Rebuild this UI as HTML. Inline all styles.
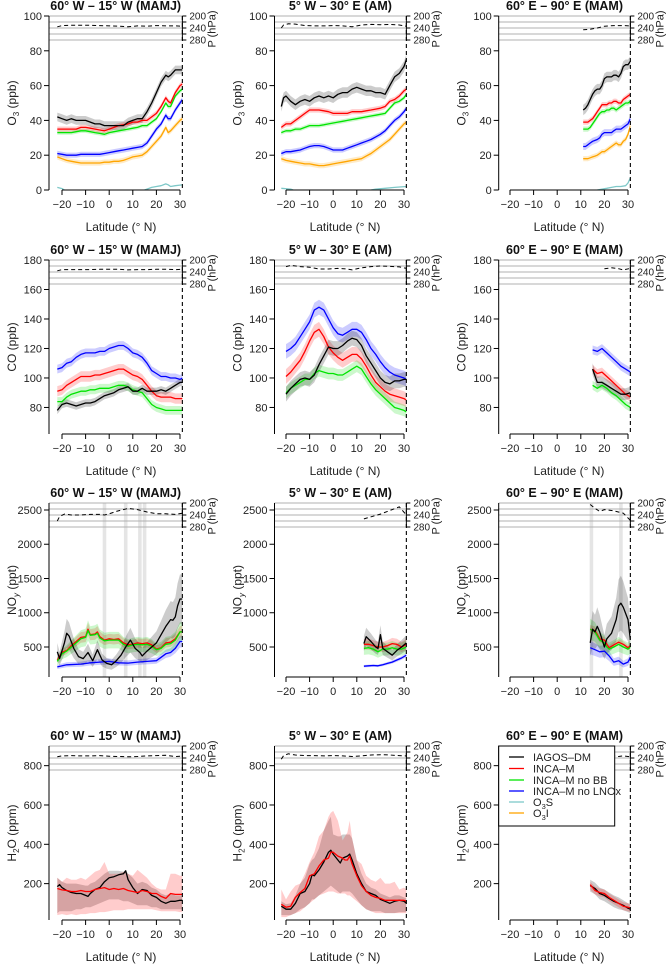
<!DOCTYPE html>
<html><head><meta charset="utf-8">
<style>
html,body{margin:0;padding:0;background:#fff;}
svg{display:block;font-family:"Liberation Sans",Arial,sans-serif;}
</style></head>
<body>
<svg id="chart" width="667" height="967" viewBox="0 0 667 967" xmlns="http://www.w3.org/2000/svg"></svg>
<script>
// ---------------- DATA ----------------
const xTicks=[-20,-10,0,10,20,30];
const pTicks=[200,220,240,260,280];
const pLabels=[200,240,280];
const colTitles=["60° W – 15° W (MAMJ)","5° W – 30° E (AM)","60° E – 90° E (MAM)"];
const o3Ticks=[0,20,40,60,80,100];
const coTicks=[80,100,120,140,160,180];
const noyTicks=[500,1000,1500,2000,2500];
const h2oTicks=[200,400,600,800];

// O3 col1
const o3a_lat=[-22,-20,-18,-16,-14,-12,-10,-8,-6,-4,-2,0,2,4,6,8,10,12,14,16,18,20,22,24,25,26,28,30,31];
const o3a_black=[42,41,40,41,40,40,40,39,38,38,37,37,37,37,37,39,40,41,41,45,50,56,62,66,65,66,69,69,69];
const o3a_red=[35,35,35,35,35,36,36,35.5,35,34.5,34,35,36,37,37.5,38,39,39,40,40,42,44,48,53,51,50,56,60,61];
const o3a_green=[33,33,33,33,33.5,34,34,33.5,33,32.5,32,33,33.5,34,34.5,35,35.5,36,37,37,39,41,45,50,48,48,54,57,58];
const o3a_blue=[21,20.5,20,20,20,20.5,20.5,20.5,20.5,20.5,21,21.5,22,22.5,23,23.5,24,24.5,25,27,31,35,38,43,41,41,46,50,52];
const o3a_orange=[19,18,17,16.5,16,15.5,15.5,15.5,15.5,15.5,16,16,16.5,16.5,17,18,19,19.5,20,22,25,28,31,36,33,34,37,40,41];
const o3a_tealLat=[-22,-20,-19,0,15,16,18,20,22,24,25,26,28,30,31];
const o3a_teal=[1.5,0.8,0,null,0,0.5,1.5,2,2.5,3.5,3,2,2.5,2.8,3];
// O3 col2
const o3b_lat=[-22,-21,-20,-18,-16,-14,-12,-10,-8,-6,-4,-2,0,2,4,6,8,10,12,14,16,18,20,22,24,26,28,30,31];
const o3b_black=[48,53,54,51,49,51,52,51,53,54,53,54,53,55,56,56,58,59,58,57,57,56,56,55,60,65,67,71,75];
const o3b_red=[36,37,38,38,40,42,44,46,46,46,45.5,45,44,44,44,44,45,45,45,45.5,46,46.5,47,48,51,52,54,57,58];
const o3b_green=[33,33.5,34,34,35,35,36,37,37,37,37.5,38,38.5,39,39.5,40,40.5,41,41.5,42,42.5,43,43.5,44,47,50,51,53,55];
const o3b_blue=[21,21.5,22,22,22.5,23,24,25,25.5,25.5,25,24,23,23,23,24,25,26,27,28,29,30.5,32,34,37,40,42,45,47];
const o3b_orange=[18,17.5,17,16.5,16,15.5,15,15,14.5,14,14,14.5,15,15.5,16,16.5,17,17.5,18,19.5,21,23,25,27,29,32,35,38,39];
const o3b_tealLat=[-22,-18,-17,0,16,18,22,26,31];
const o3b_teal=[1,0.5,0,null,0,0.5,1,1.5,2];
// O3 col3
const o3c_lat=[11,12,13,14,15,16,17,18,19,20,21,22,23,24,25,26,27,28,29,30,31];
const o3c_black=[46,47,49,52,55,57,58,58,60,64,65,65,65,66,66,65,67,71,72,72,74];
const o3c_red=[39,39,39,40,41,43,45,47,49,49,49,50,50,51,51,50,50,52,53,54,55];
const o3c_green=[35,35,35,36,38,40,42,44,45,45,46,46,47,47,46,47,48,49,50,50,51];
const o3c_blue=[25,25,26,27,28,28.5,29,30,32,33,33,33,33,34,35,35,35,36,37,38,41];
const o3c_orange=[18,18,18,18.5,19,19.5,20,21,22,22,23,24,25,26,27,26,26,28,29,32,37];
const o3c_tealLat=[17,19,21,23,25,27,29,30,31];
const o3c_teal=[0,0.5,1,1.5,2,2,2.5,4,7];

// CO col1
const coa_lat=[-22,-20,-18,-16,-14,-12,-10,-8,-6,-4,-2,0,2,4,6,8,10,12,14,16,18,20,22,24,26,28,30,31];
const coa_blue=[106,107,110,111,114,116,117,117,117,118,118,120,121,122,122,120,117,116,114,110,105,103,101,101,100,100,99,100];
const coa_red=[91,92,95,97,99,101,101,101,102,102,103,104,105,106,106,104,102,101,99,95,91,88,87,87,87,86,86,86];
const coa_green=[84,84,87,89,90,91,91,92,92,93,93,93,94,95,95,94,92,91,90,86,82,80,79,78,78,78,78,78];
const coa_black=[78,82,83,82,81,82,83,83,84,86,88,89,90,92,93,94,91,91,93,91,91,91,92,91,93,95,97,97];
// CO col2
const cob_lat=[-20,-18,-16,-14,-12,-10,-8,-6,-4,-2,0,2,4,6,8,10,12,14,16,18,20,22,24,26,28,30,31];
const cob_blue=[118,120,123,128,133,138,146,148,146,140,134,130,129,131,133,133,131,126,120,116,111,107,104,102,101,100,99];
const cob_red=[101,104,108,112,118,125,131,133,128,121,117,114,112,114,116,116,113,108,102,97,94,91,89,88,87,86,85];
const cob_green=[90,93,95,97,99,99,103,105,104,103,103,102,102,104,106,108,106,101,96,92,89,86,83,80,79,78,77];
const cob_black=[89,93,96,99,100,99,102,109,115,121,120,120,122,125,127,126,122,115,110,105,100,97,96,98,98,99,99];
// CO col3
const coc_lat=[15,17,19,21,23,25,27,29,31];
const coc_blue=[119,118,120,117,114,111,108,106,104];
const coc_red=[106,103,104,101,98,95,92,89,87];
const coc_black=[106,97,97,95,93,91,89,89,90];
const coc_green=[95,93,95,93,90,88,85,82,80];

// NOy col1
const noa_lat=[-22,-20,-18,-16,-14,-12,-10,-9,-8,-6,-5,-4,-2,0,2,4,6,8,10,12,14,16,18,20,22,24,26,28,30,31];
const noa_red=[310,420,450,520,580,640,650,760,680,690,720,650,600,620,610,620,560,530,540,560,550,560,530,470,490,560,570,620,720,720];
const noa_green=[290,400,440,500,560,620,640,740,670,680,700,630,590,600,600,600,540,510,530,540,530,540,510,460,480,540,550,600,720,720];
const noa_blueLat=[-22,-18,-12,-8,-4,0,4,8,12,16,20,22,24,26,28,30,31];
const noa_blue=[210,240,250,270,280,290,270,265,280,290,300,350,400,420,480,580,580];
const noa_blackLat=[-22,-21,-19,-18,-17,-15,-13,-11,-9,-7,-5,-3,-1,1,3,5,7,9,11,13,14,16,18,20,22,24,26,27,28,29,30,31];
const noa_black=[430,330,560,700,660,480,360,330,420,300,460,310,260,240,300,380,500,600,480,420,370,440,500,560,680,800,900,890,940,1100,1200,1200];
const noa_bars=[-2,7,13,15];
// NOy col2
const nob_lat=[13,15,17,19,21,23,25,27,29,31];
const nob_red=[540,540,520,500,500,520,550,540,500,540];
const nob_green=[480,490,470,430,470,470,490,470,470,500];
const nob_blue=[220,225,230,225,240,260,280,310,340,380];
const nob_blackLat=[13,14,16,18,19,20,21,23,25,27,29,31];
const nob_black=[550,650,580,500,480,680,480,430,380,450,500,560];
// NOy col3
const noc_lat=[14,16,18,20,21,22,24,26,28,30,31];
const noc_red=[760,740,620,600,540,490,530,570,540,490,520];
const noc_green=[760,720,600,560,500,470,500,540,500,470,500];
const noc_blueLat=[14,16,18,20,22,24,26,28,30,31];
const noc_blue=[490,460,430,440,370,280,300,250,280,350];
const noc_blackLat=[14,15,16,17,18,20,21,23,25,26,27,28,30,31];
const noc_black=[560,760,720,800,720,500,620,700,900,1100,1140,1080,900,600];
const noc_bars=[14.5,27];

// H2O col1
const ha_blackLat=[-22,-21,-20,-18,-16,-14,-12,-10,-9,-8,-6,-4,-2,0,2,4,6,7,8,10,12,14,16,18,20,22,24,26,28,30,31];
const ha_black=[185,195,180,165,155,150,150,140,135,150,170,180,210,230,235,245,250,265,220,180,150,170,165,140,130,110,100,110,110,115,115];
const ha_blackHi=[230,220,210,200,200,200,195,190,190,200,210,230,250,265,265,265,260,270,250,230,200,210,200,180,170,150,140,150,140,140,140];
const ha_blackLo=[50,60,60,60,60,70,70,80,80,80,90,100,110,120,120,120,110,110,110,100,90,90,90,80,80,70,70,70,70,70,70];
const ha_redLat=[-22,-20,-18,-16,-14,-12,-10,-8,-6,-4,-2,0,2,4,6,8,10,12,14,16,18,20,22,24,26,28,30,31];
const ha_red=[175,168,165,160,160,165,160,160,170,175,180,170,175,170,175,165,160,155,165,160,150,150,135,125,150,145,145,145];
const ha_redHi=[230,210,230,220,220,230,220,240,260,270,310,250,250,250,260,250,240,270,250,230,200,180,170,170,250,250,240,240];
const ha_redLo=[40,45,40,45,40,45,45,50,50,55,55,60,65,65,65,70,70,70,70,70,70,65,60,60,60,60,55,55];
// H2O col2
const hb_blackLat=[-22,-20,-18,-16,-14,-12,-10,-9,-8,-6,-4,-2,-1,0,2,3,4,6,7,8,10,12,14,16,18,20,22,24,26,28,30,31];
const hb_black=[85,70,70,100,150,160,200,245,240,270,310,360,370,350,320,305,330,340,350,320,250,200,160,150,140,120,110,100,110,115,110,100];
const hb_blackHi=[110,95,100,140,200,230,300,320,330,380,470,520,540,450,440,440,450,450,450,430,320,250,200,180,170,150,140,130,140,140,130,125];
const hb_blackLo=[40,40,40,50,70,80,100,120,120,140,160,180,190,180,160,150,160,160,160,150,120,90,70,60,60,60,50,50,50,55,55,55];
const hb_redLat=[-22,-20,-18,-16,-14,-12,-10,-8,-6,-4,-2,-1,0,2,4,5,6,7,8,10,12,14,16,18,20,22,24,26,28,30,31];
const hb_red=[95,80,85,130,155,175,240,250,290,320,330,360,360,340,330,320,320,340,300,240,190,160,140,130,125,115,115,115,115,115,110];
const hb_redHi=[170,120,160,190,200,250,310,360,440,470,540,560,570,520,420,440,460,520,430,320,300,240,220,210,230,200,200,210,170,180,170];
const hb_redLo=[30,30,40,50,60,80,100,120,140,150,160,160,160,150,150,150,140,140,130,110,90,70,60,50,50,50,50,50,50,50,50];
// H2O col3
const hc_lat=[14,16,18,20,22,24,26,28,30,31];
const hc_black=[190,175,150,140,125,110,100,90,75,70];
const hc_blackHi=[220,205,180,170,155,140,130,115,100,95];
const hc_blackLo=[160,145,120,110,95,80,70,65,55,50];
const hc_red=[195,165,155,150,130,115,100,85,80,75];
const hc_redHi=[210,185,175,170,150,135,120,105,100,95];
const hc_redLo=[170,145,135,130,110,95,80,65,60,55];

// Pressure (hPa) dashed curves
const pr_r0c0_lat=[-22,-20,-16,-12,-8,-4,0,4,8,12,16,20,24,28,31], pr_r0c0=[236,232,231,231,231,232,233,234,236,233,234,232,233,233,234];
const pr_r0c1_lat=[-22,-21,-19,-16,-12,-8,-4,0,4,8,12,16,20,24,28,31], pr_r0c1=[240,230,226,227,232,233,233,232,233,236,230,228,229,228,230,234];
const pr_r0c2_lat=[11,14,17,20,24,28,31], pr_r0c2=[246,244,240,234,232,232,233];
const pr_r1c0_lat=[-22,-20,-16,-12,-8,-4,0,4,8,12,16,20,24,28,31], pr_r1c0=[236,232,232,232,232,231,231,231,233,232,232,231,231,232,231];
const pr_r1c1_lat=[-20,-18,-14,-10,-6,-2,2,6,8,12,16,20,24,28,31], pr_r1c1=[222,218,222,224,230,230,228,230,233,226,222,220,221,223,228];
const pr_r1c2_lat=[20,23,26,28,31], pr_r1c2=[229,226,229,233,228];
const pr_r2c0_lat=[-22,-21,-19,-16,-12,-8,-4,-2,0,3,6,8,12,16,20,24,28,31], pr_r2c0=[260,245,237,240,240,238,238,240,236,228,222,218,222,230,236,236,238,234];
const pr_r2c1_lat=[13,20,28,31], pr_r2c1=[253,237,213,240];
const pr_r2c2_lat=[14,16,18,20,24,28,31], pr_r2c2=[205,218,228,222,226,234,258];
const pr_r3c0_lat=[-22,-20,-16,-12,-8,-4,0,4,8,12,16,20,24,28,31], pr_r3c0=[236,233,232,233,233,232,234,235,236,235,233,232,231,235,234];
const pr_r3c1_lat=[-22,-21,-19,-16,-12,-8,-4,0,4,8,12,16,20,24,28,31], pr_r3c1=[244,232,226,230,232,232,233,232,233,235,233,230,229,230,232,233];
const pr_r3c2_lat=[14,18,22,26,28,31], pr_r3c2=[230,232,232,235,233,236];

// ---------------- LAYOUT ----------------
const NS="http://www.w3.org/2000/svg";
const svg=document.getElementById('chart');
const colX0=[62,286,510];
const colLeft=[49,274.5,498.7];
const rowsG=[
 {top:16,bot:190,ymin:0,ymax:100,ticks:o3Ticks,key:'o3',lab:true},
 {top:260,bot:434,ymin:62,ymax:180,ticks:coTicks,key:'co',lab:true},
 {top:503,bot:677,ymin:62,ymax:2602,ticks:noyTicks,key:'noy',lab:false},
 {top:746,bot:920,ymin:15,ymax:900,ticks:h2oTicks,key:'h2o',lab:true}
];
const COL={black:'#000',red:'#ff0000',green:'#00e400',blue:'#0000ff',orange:'#ffa500',teal:'#7ec8c8'};
const BAND={black:'rgba(0,0,0,0.2)',red:'rgba(255,0,0,0.2)',green:'rgba(0,220,0,0.2)',blue:'rgba(0,0,255,0.2)',orange:'rgba(255,165,0,0.22)',teal:'rgba(0,0,0,0)'};
function X(c,lat){return colX0[c]+(lat+20)*2.36;}
function Y(r,v){const g=rowsG[r];return g.top+(g.ymax-v)/(g.ymax-g.ymin)*(g.bot-g.top);}
function YP(r,p){return rowsG[r].top+(p-200)*0.3;}
function el(tag,attrs,parent,text){const e=document.createElementNS(NS,tag);for(const k in attrs)e.setAttribute(k,attrs[k]);if(text!==undefined)e.textContent=text;(parent||svg).appendChild(e);return e;}
function fmt(n){return n<0?'\u2212'+(-n):String(n);}

function linePath(c,r,lats,vals){let d='',pen=false;for(let i=0;i<lats.length;i++){if(vals[i]===null){pen=false;continue;}d+=(pen?'L':'M')+X(c,lats[i]).toFixed(1)+' '+Y(r,vals[i]).toFixed(1);pen=true;}return d;}
function bandPath(c,r,lats,lo,hi){let d='';for(let i=0;i<lats.length;i++)d+=(i?'L':'M')+X(c,lats[i]).toFixed(1)+' '+Y(r,hi[i]).toFixed(1);for(let i=lats.length-1;i>=0;i--)d+='L'+X(c,lats[i]).toFixed(1)+' '+Y(r,lo[i]).toFixed(1);return d+'Z';}

// panels definition: series {name, lat, val, lo, hi, hw(absolute)|rel}
const panels=[
 {r:0,c:0,pr:[pr_r0c0_lat,pr_r0c0],series:[
  {n:'orange',lat:o3a_lat,v:o3a_orange,hw:1.5},{n:'blue',lat:o3a_lat,v:o3a_blue,hw:1.5},{n:'green',lat:o3a_lat,v:o3a_green,hw:1.2},{n:'red',lat:o3a_lat,v:o3a_red,hw:1.5},{n:'black',lat:o3a_lat,v:o3a_black,hw:2.5},{n:'teal',lat:o3a_tealLat,v:o3a_teal}]},
 {r:0,c:1,pr:[pr_r0c1_lat,pr_r0c1],series:[
  {n:'orange',lat:o3b_lat,v:o3b_orange,hw:1.5},{n:'blue',lat:o3b_lat,v:o3b_blue,hw:1.5},{n:'green',lat:o3b_lat,v:o3b_green,hw:1.2},{n:'red',lat:o3b_lat,v:o3b_red,hw:1.5},{n:'black',lat:o3b_lat,v:o3b_black,hw:3},{n:'teal',lat:o3b_tealLat,v:o3b_teal}]},
 {r:0,c:2,pr:[pr_r0c2_lat,pr_r0c2],series:[
  {n:'orange',lat:o3c_lat,v:o3c_orange,hw:1.5},{n:'blue',lat:o3c_lat,v:o3c_blue,hw:2},{n:'green',lat:o3c_lat,v:o3c_green,hw:1.5},{n:'red',lat:o3c_lat,v:o3c_red,hw:1.5},{n:'black',lat:o3c_lat,v:o3c_black,hw:3},{n:'teal',lat:o3c_tealLat,v:o3c_teal}]},
 {r:1,c:0,pr:[pr_r1c0_lat,pr_r1c0],series:[
  {n:'blue',lat:coa_lat,v:coa_blue,hw:3},{n:'red',lat:coa_lat,v:coa_red,hw:3.5},{n:'green',lat:coa_lat,v:coa_green,hw:3},{n:'black',lat:coa_lat,v:coa_black,hw:2.5}]},
 {r:1,c:1,pr:[pr_r1c1_lat,pr_r1c1],series:[
  {n:'blue',lat:cob_lat,v:cob_blue,hw:5},{n:'red',lat:cob_lat,v:cob_red,hw:5},{n:'green',lat:cob_lat,v:cob_green,hw:4},{n:'black',lat:cob_lat,v:cob_black,hw:5}]},
 {r:1,c:2,pr:[pr_r1c2_lat,pr_r1c2],series:[
  {n:'blue',lat:coc_lat,v:coc_blue,hw:3},{n:'red',lat:coc_lat,v:coc_red,hw:3},{n:'green',lat:coc_lat,v:coc_green,hw:3},{n:'black',lat:coc_lat,v:coc_black,hw:4}]},
 {r:2,c:0,pr:[pr_r2c0_lat,pr_r2c0],bars:noa_bars,series:[
  {n:'blue',lat:noa_blueLat,v:noa_blue,rel:0.15},{n:'red',lat:noa_lat,v:noa_red,rel:0.12},{n:'green',lat:noa_lat,v:noa_green,rel:0.2},{n:'black',lat:noa_blackLat,v:noa_black,rel:0.3}]},
 {r:2,c:1,pr:[pr_r2c1_lat,pr_r2c1],series:[
  {n:'blue',lat:nob_lat,v:nob_blue,rel:0.08},{n:'red',lat:nob_lat,v:nob_red,rel:0.15},{n:'green',lat:nob_lat,v:nob_green,rel:0.2},{n:'black',lat:nob_blackLat,v:nob_black,rel:0.2}]},
 {r:2,c:2,pr:[pr_r2c2_lat,pr_r2c2],bars:noc_bars,series:[
  {n:'blue',lat:noc_blueLat,v:noc_blue,rel:0.2},{n:'red',lat:noc_lat,v:noc_red,rel:0.08},{n:'green',lat:noc_lat,v:noc_green,rel:0.2},{n:'black',lat:noc_blackLat,v:noc_black,rel:0.35}]},
 {r:3,c:0,pr:[pr_r3c0_lat,pr_r3c0],series:[
  {n:'black',lat:ha_blackLat,v:ha_black,lo:ha_blackLo,hi:ha_blackHi},{n:'red',lat:ha_redLat,v:ha_red,lo:ha_redLo,hi:ha_redHi}]},
 {r:3,c:1,pr:[pr_r3c1_lat,pr_r3c1],series:[
  {n:'black',lat:hb_blackLat,v:hb_black,lo:hb_blackLo,hi:hb_blackHi},{n:'red',lat:hb_redLat,v:hb_red,lo:hb_redLo,hi:hb_redHi}]},
 {r:3,c:2,pr:[pr_r3c2_lat,pr_r3c2],series:[
  {n:'black',lat:hc_lat,v:hc_black,lo:hc_blackLo,hi:hc_blackHi},{n:'red',lat:hc_lat,v:hc_red,lo:hc_redLo,hi:hc_redHi}]}
];
const ylabMain={o3:'O',co:'CO (ppb)',noy:'NO',h2o:'H'};

panels.forEach((P,pi)=>{
 const g=rowsG[P.r],c=P.c,r=P.r;
 const L=colLeft[c],R=X(c,31);
 const grp=el('g',{});
 
 
 const cid='clip'+pi;
 const cp=el('clipPath',{id:cid},grp);el('rect',{x:L,y:g.top,width:R-L,height:g.bot-g.top},cp);
 const inner=el('g',{'clip-path':'url(#'+cid+')'},grp);
 // title
 const t=el('text',{x:(L+R)/2,y:g.top-6,'text-anchor':'middle','font-size':'12.5','font-weight':'bold',fill:'#111'},grp,colTitles[c]);
 
 
 // vertical bars
 (P.bars||[]).forEach(b=>{const rb=el('rect',{x:X(c,b)-1.8,y:g.top,width:3.6,height:g.bot-g.top,fill:'rgba(0,0,0,0.1)'},inner);
  
  });
 // pressure gridlines
 pTicks.forEach(p=>{el('line',{x1:L,x2:R,y1:YP(r,p),y2:YP(r,p),stroke:'#b0b0b0','stroke-width':1},grp);});
 // bands
 P.series.forEach(s=>{
  if(s.n==='teal')return;
  let lo,hi;
  if(s.lo){lo=s.lo;hi=s.hi;}
  else if(s.rel){lo=s.v.map(v=>v*(1-s.rel));hi=s.v.map(v=>v*(1+s.rel));}
  else {lo=s.v.map(v=>v-s.hw);hi=s.v.map(v=>v+s.hw);}
  const b=el('path',{d:bandPath(c,r,s.lat,lo,hi),fill:BAND[s.n],stroke:'none'},inner);
  
  
 });
 // lines
 P.series.forEach(s=>{
  const ln=el('path',{d:linePath(c,r,s.lat,s.v),fill:'none',stroke:COL[s.n],'stroke-width':1.3,'stroke-linejoin':'round'},inner);
  
  
 });
 // pressure dashed curve
 const pl=P.pr[0],pv=P.pr[1];let d='';
 pl.forEach((la,i)=>{d+=(i?'L':'M')+X(c,la).toFixed(1)+' '+YP(r,pv[i]).toFixed(1);});
 const pd=el('path',{d:d,fill:'none',stroke:'#000','stroke-width':1,'stroke-dasharray':'4,3'},grp);
 
 
 // left axis
 el('line',{x1:L,x2:L,y1:g.top,y2:g.bot,stroke:'#000','stroke-width':1},grp);
 g.ticks.forEach(v=>{const y=Y(r,v);el('line',{x1:L-5,x2:L,y1:y,y2:y,stroke:'#000'},grp);
  const tl=el('text',{x:L-7,y:y+4,'text-anchor':'end','font-size':'11',fill:'#222'},grp,String(v));
  
  });
 // y axis title
 const yx=L-33,yy=(g.top+g.bot)/2;
 const yt=el('text',{x:yx,y:yy,'text-anchor':'middle','font-size':'12',fill:'#222',transform:'rotate(-90 '+yx+' '+yy+')'},grp);
 
 
 if(g.key==='o3'){el('tspan',{},yt,'O');el('tspan',{'font-size':'8',dy:'3'},yt,'3');el('tspan',{dy:'-3'},yt,' (ppb)');}
 else if(g.key==='co'){yt.textContent='CO (ppb)';}
 else if(g.key==='noy'){el('tspan',{},yt,'NO');el('tspan',{'font-size':'8',dy:'3','font-style':'italic'},yt,'y');el('tspan',{dy:'-3'},yt,' (ppt)');}
 else {el('tspan',{},yt,'H');el('tspan',{'font-size':'8',dy:'3'},yt,'2');el('tspan',{dy:'-3'},yt,'O (ppm)');}
 // x axis
 el('line',{x1:X(c,-20),x2:X(c,30),y1:g.bot,y2:g.bot,stroke:'#000'},grp);
 xTicks.forEach(v=>{const x=X(c,v);el('line',{x1:x,x2:x,y1:g.bot,y2:g.bot+5,stroke:'#000'},grp);
  const xl=el('text',{x:x,y:g.bot+18,'text-anchor':'middle','font-size':'11',fill:'#222'},grp,fmt(v));
  
  });
 if(g.lab){const xt=el('text',{x:(X(c,-20)+X(c,30))/2,y:g.bot+41,'text-anchor':'middle','font-size':'12',fill:'#222'},grp,'Latitude (° N)');
  
  }
 // right dashed boundary + pressure axis
 el('line',{x1:R,x2:R,y1:g.top,y2:g.bot,stroke:'#000','stroke-width':1.1,'stroke-dasharray':'4,3'},grp);
 el('line',{x1:R,x2:R,y1:YP(r,200),y2:YP(r,280),stroke:'#000'},grp);
 pTicks.forEach(p=>{el('line',{x1:R,x2:R+4,y1:YP(r,p),y2:YP(r,p),stroke:'#000'},grp);});
 pLabels.forEach(p=>{const pt=el('text',{x:R+7,y:YP(r,p)+3.5,'font-size':'10',fill:'#222'},grp,String(p));
  
  });
 const px=R+33,py=g.top+13;
 const ptt=el('text',{x:px,y:py,'text-anchor':'middle','font-size':'11',fill:'#222',transform:'rotate(-90 '+px+' '+py+')'},grp,'P (hPa)');
 
 
});

// legend
const legItems=[['IAGOS–DM','black'],['INCA–M','red'],['INCA–M no BB','green'],['INCA–M no LNOx','blue'],['O3S','teal'],['O3I','orange']];
const lg=el('g',{});


el('rect',{x:498.7,y:746,width:116,height:80,fill:'#fff',stroke:'#000','stroke-width':1},lg);
const legY=[757,768.5,780,791,802,813];
legItems.forEach((it,i)=>{
 const y=legY[i];
 const e=el('g',{},lg);
 
 
 el('line',{x1:509,x2:524,y1:y,y2:y,stroke:COL[it[1]],'stroke-width':1.3},e);
 const tx=el('text',{x:533,y:y+4,'font-size':'11',fill:'#222'},e);
 if(it[0]==='O3S'||it[0]==='O3I'){el('tspan',{},tx,'O');el('tspan',{'font-size':'7.5',dy:'3'},tx,'3');el('tspan',{dy:'-3'},tx,it[0].slice(2));}
 else tx.textContent=it[0];
});
</script>
</body></html>
